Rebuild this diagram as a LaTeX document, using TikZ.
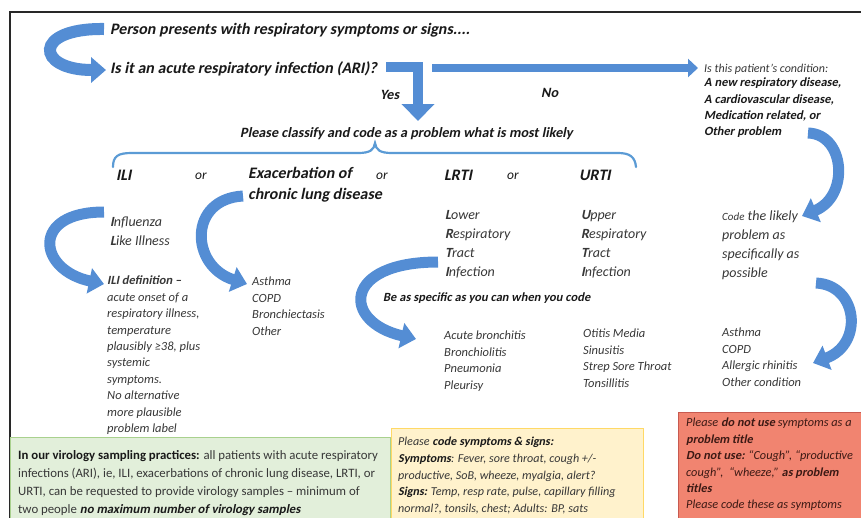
\documentclass[tikz,border=0pt]{standalone}
\usepackage{fontspec}
\setmainfont{Carlito}[BoldItalicFont={Carlito Bold}, BoldItalicFeatures={FakeSlant=0.2}]
\usetikzlibrary{arrows.meta}
\definecolor{arrowblue}{RGB}{84,141,212}
\definecolor{braceblue}{RGB}{91,155,213}
\definecolor{txt}{RGB}{25,25,25}
\definecolor{txtg}{RGB}{55,55,55}
\definecolor{framegray}{RGB}{40,40,40}
\definecolor{greenfill}{RGB}{226,239,218}
\definecolor{greenline}{RGB}{169,209,142}
\definecolor{yellowfill}{RGB}{255,242,204}
\definecolor{yellowline}{RGB}{255,217,102}
\definecolor{redfill}{RGB}{241,132,112}
\definecolor{redline}{RGB}{200,90,80}
\definecolor{redtxt}{RGB}{60,25,20}
\begin{document}
\begin{tikzpicture}[x=1pt,y=-1pt,
  base/.style={inner sep=0pt, text=txt, align=left},
  bigbi/.style={base, anchor=west, font=\fontsize{16}{18}\selectfont\bfseries\itshape},
  headbi/.style={base, anchor=west, font=\fontsize{16}{21}\selectfont\bfseries\itshape},
  midbi/.style={base, anchor=west, font=\fontsize{14.2}{16}\selectfont\bfseries\itshape},
  orlbl/.style={base, anchor=west, font=\fontsize{13.5}{14}\selectfont\itshape},
  smbi/.style={base, font=\fontsize{12.5}{16.1}\selectfont\bfseries\itshape},
  listit/.style={base, anchor=north west, text=txtg, font=\fontsize{12.5}{16.4}\selectfont\itshape},
  defit/.style={base, anchor=north west, text=txtg, font=\fontsize{14}{19}\selectfont\itshape},
  ribbon/.style={draw=arrowblue, line width=11pt, line join=miter, -{Triangle[width=25pt,length=15pt]}},
  boxshape/.style={anchor=north west, inner sep=0pt, line width=1pt},
  boxtext/.style={base, anchor=north west}
]
\useasboundingbox (0,0) rectangle (861,517);

% frame
\draw[framegray, line width=1.5pt] (10,525) -- (10,12) -- (870,12);

% ---- top texts
\node[bigbi] (person) at (110,30) {Person presents with respiratory symptoms or signs....};
\node[bigbi] (ari) at (110,69) {Is it an acute respiratory infection (ARI)?};
\node[midbi] (yes) at (380,95) {Yes};
\node[midbi] (no) at (541,93) {No};
\node[base, anchor=west, text=txtg, font=\fontsize{12}{12}\selectfont\itshape] (cond) at (704,69) {Is this patient’s condition:};
\node[smbi, anchor=north west] (condlist) at (704,78) {A new respiratory disease,\\A cardiovascular disease,\\Medication related, or\\Other problem};

\node[midbi] (classify) at (240,134) {Please classify and code as a problem what is most likely};

% brace
\draw[braceblue, line width=2.2pt, line cap=round] (113,167) .. controls (113,156) and (118,153) .. (132,153)
  -- (358,153) .. controls (370,153) and (374,150) .. (375,143)
  .. controls (376,150) and (380,153) .. (392,153) -- (618,153)
  .. controls (630,153) and (635,157) .. (636,167);

% ---- category row
\node[headbi] (ili) at (116,175) {ILI};
\node[orlbl] (or1) at (195,176) {or};
\node[headbi, anchor=north west] (exac) at (248,167) {Exacerbation of\\chronic lung disease};
\node[orlbl] (or2) at (376,176) {or};
\node[headbi] (lrti) at (444,175) {LRTI};
\node[orlbl] (or3) at (507,176) {or};
\node[headbi] (urti) at (579,175) {URTI};

\node[defit] (influenza) at (110,217) {{\bfseries I}nfluenza\\{\bfseries L}ike Illness};
\node[defit] (lower) at (445,210) {{\bfseries L}ower\\{\bfseries R}espiratory\\{\bfseries T}ract\\{\bfseries I}nfection};
\node[defit] (upper) at (581,210) {{\bfseries U}pper\\{\bfseries R}espiratory\\{\bfseries T}ract\\{\bfseries I}nfection};
\node[defit] (codelikely) at (722,211) {{\fontsize{11}{19}\selectfont Code} the likely\\problem as\\specifically as\\possible};

\node[listit] (ilidef) at (107,276) {{\bfseries ILI definition –}\\acute onset of a\\respiratory illness,\\temperature\\plausibly ≥38, plus\\systemic\\symptoms.\\No alternative\\more plausible\\problem label};
\node[listit] (chronic) at (252,277) {Asthma\\COPD\\Bronchiectasis\\Other};
\node[smbi, anchor=west] (specific) at (383,298) {Be as specific as you can when you code};
\node[listit] (lrtilist) at (444,331) {Acute bronchitis\\Bronchiolitis\\Pneumonia\\Pleurisy};
\node[listit] (urtilist) at (583,329) {Otitis Media\\Sinusitis\\Strep Sore Throat\\Tonsillitis};
\node[listit] (otherlist) at (722,328) {Asthma\\COPD\\Allergic rhinitis\\Other condition};

% ---- arrows
\coordinate (a1s) at (104,29);
\coordinate (a1e) at (106,70);
\draw[ribbon, line width=12pt] (a1s) .. controls (32,28) and (36,70) .. (a1e);
\coordinate (yess) at (386,67);
\coordinate (yesc) at (418,67);
\coordinate (yese) at (418,121);
\draw[ribbon, line width=10pt, -{Triangle[width=32pt,length=17pt]}] (yess) -- (yesc) -- (yese);
\coordinate (nos) at (432,68);
\coordinate (noe) at (698,68);
\draw[ribbon, line width=8pt, -{Triangle[width=18pt,length=10pt]}] (nos) -- (noe);
\coordinate (a4s) at (808,133);
\coordinate (a4e) at (802,216);
\draw[ribbon] (a4s) .. controls (845,134) and (850,196) .. (a4e);
\coordinate (a5s) at (816,283);
\coordinate (a5e) at (813,363);
\draw[ribbon] (a5s) .. controls (858,285) and (864,344) .. (a5e);
\coordinate (a6s) at (104,212);
\coordinate (a6e) at (104,284);
\draw[ribbon] (a6s) .. controls (30,212) and (38,270) .. (a6e);
\coordinate (a7s) at (243,196);
\coordinate (a7e) at (247,284);
\draw[ribbon] (a7s) .. controls (188,199) and (190,266) .. (a7e);
\coordinate (a8s) at (438,262);
\coordinate (a8e) at (416,339);
\draw[ribbon] (a8s) .. controls (342,262) and (342,322) .. (a8e);

% ---- boxes
\node[boxshape, fill=greenfill, draw=greenline, minimum width=380pt, minimum height=95pt] (greenbox) at (10,437) {};
\node[boxtext, text=txtg, font=\fontsize{12.8}{18.1}\selectfont] (greentext) at (18,450)
  {{\bfseries\color{txt}In our virology sampling practices:} all patients with acute respiratory\\infections (ARI), ie, ILI, exacerbations of chronic lung disease, LRTI, or\\URTI, can be requested to provide virology samples – minimum of\\two people {\bfseries\itshape\color{txt} no maximum number of virology samples}};
\node[boxshape, fill=yellowfill, draw=yellowline, minimum width=252pt, minimum height=100pt] (yellowbox) at (391,428) {};
\node[boxtext, text=txtg, font=\fontsize{12.1}{16.7}\selectfont\itshape] (yellowtext) at (398,437)
  {Please {\bfseries\color{txt}code symptoms \& signs:}\\{\bfseries\color{txt}Symptoms}: Fever, sore throat, cough +/-\\productive, SoB, wheeze, myalgia, alert?\\{\bfseries\color{txt}Signs:} Temp, resp rate, pulse, capillary filling\\normal?, tonsils, chest; Adults: BP, sats};
\node[boxshape, fill=redfill, draw=redline, minimum width=186pt, minimum height=115pt] (redbox) at (678,412) {};
\node[boxtext, text=redtxt, font=\fontsize{12.3}{16.4}\selectfont\itshape] (redtext) at (686,418)
  {Please {\bfseries do not use} symptoms as a\\{\bfseries problem title}\\{\bfseries Do not use:} “Cough”, “productive\\cough”,~ “wheeze,” {\bfseries as problem}\\{\bfseries titles}\\Please code these as symptoms};
\end{tikzpicture}
\end{document}
